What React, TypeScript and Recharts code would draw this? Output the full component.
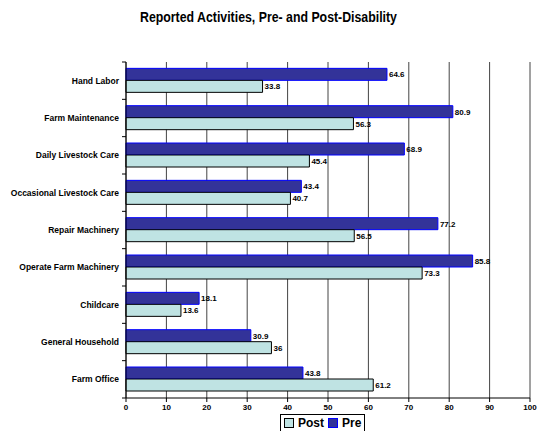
import { BarChart, Bar, XAxis, YAxis, CartesianGrid, LabelList } from "recharts";

const activities = [
    "Hand Labor",
    "Farm Maintenance",
    "Daily Livestock Care",
    "Occasional Livestock Care",
    "Repair Machinery",
    "Operate Farm Machinery",
    "Childcare",
    "General Household",
    "Farm Office",
];
const preValues = [64.6, 80.9, 68.9, 43.4, 77.2, 85.8, 18.1, 30.9, 43.8];
const postValues = [33.8, 56.3, 45.4, 40.7, 56.5, 73.3, 13.6, 36, 61.2];
const xTicks = [0, 10, 20, 30, 40, 50, 60, 70, 80, 90, 100];

const PRE_FILL = "#333399";
const POST_FILL = "#bfe3e3";
const FONT = "Liberation Sans, Arial, sans-serif";

const data = activities.map((name, i) => ({
    name,
    pre: preValues[i],
    post: postValues[i],
}));

// category label plus a small tick between bands, like the old spreadsheet look
function CategoryTick(props: any) {
    const { x, y, payload, index } = props;
    const half = 336 / activities.length / 2;
    const last = index === activities.length - 1;
    return (
        <g>
            <text x={x + 1} y={y} dy={3} textAnchor="end" fontSize={8.5} fontWeight="bold" fill="#000" fontFamily={FONT}>
                {payload.value}
            </text>
            <line x1={x + 4} x2={x + 8} y1={y - half} y2={y - half} stroke="#000" />
            {last && <line x1={x + 4} x2={x + 8} y1={y + half} y2={y + half} stroke="#000" />}
        </g>
    );
}

export default function App() {
    return (
        <div style={{ position: "absolute", left: 0, top: 0, width: 537, height: 431, background: "#fff" }}>
            <div
                style={{
                    position: "absolute",
                    top: 9,
                    left: 0,
                    width: 537,
                    textAlign: "center",
                    fontFamily: "Liberation Sans Narrow, Arial Narrow, Liberation Sans, sans-serif",
                    fontWeight: "bold",
                    fontSize: 14,
                    transform: "scaleX(0.88)",
                }}
            >
                Reported Activities, Pre- and Post-Disability
            </div>
            <BarChart
                width={537}
                height={431}
                data={data}
                layout="vertical"
                margin={{ top: 62, right: 7, bottom: 13, left: 0 }}
                barCategoryGap="17%"
                barGap={0}
            >
                <CartesianGrid horizontal={false} vertical stroke="#444" strokeWidth={1} />
                <XAxis
                    type="number"
                    domain={[0, 100]}
                    ticks={xTicks}
                    interval={0}
                    axisLine={{ stroke: "#000" }}
                    tickLine={{ stroke: "#000" }}
                    tickSize={4}
                    tick={{ fontSize: 8, fontWeight: "bold", fill: "#000", fontFamily: FONT }}
                    height={20}
                />
                <YAxis
                    type="category"
                    dataKey="name"
                    width={126}
                    axisLine={{ stroke: "#000" }}
                    tickLine={false}
                    tick={<CategoryTick />}
                    interval={0}
                />
                <Bar dataKey="pre" fill={PRE_FILL} stroke="#0000ff" strokeWidth={1} isAnimationActive={false}>
                    <LabelList dataKey="pre" position="right" offset={2} fontSize={8} fontWeight="bold" fill="#000" fontFamily={FONT} />
                </Bar>
                <Bar dataKey="post" fill={POST_FILL} stroke="#000" strokeWidth={1} isAnimationActive={false}>
                    <LabelList dataKey="post" position="right" offset={2} fontSize={8} fontWeight="bold" fill="#000" fontFamily={FONT} />
                </Bar>
            </BarChart>
            <div
                style={{
                    position: "absolute",
                    left: 280,
                    top: 414,
                    border: "1px solid #000",
                    padding: "1px 3px",
                    display: "flex",
                    alignItems: "center",
                    gap: 4,
                    fontFamily: FONT,
                    fontWeight: "bold",
                    fontSize: 12,
                    background: "#fff",
                }}
            >
                <span style={{ display: "inline-block", width: 8, height: 8, background: POST_FILL, border: "1px solid #000" }} />
                <span>Post</span>
                <span style={{ display: "inline-block", width: 8, height: 8, background: PRE_FILL, border: "1px solid #0000ff" }} />
                <span>Pre</span>
            </div>
        </div>
    );
}
